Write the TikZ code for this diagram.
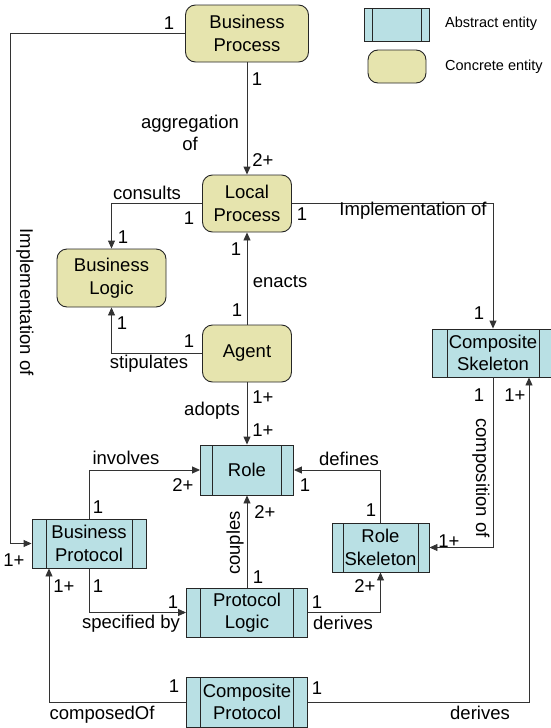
\documentclass[tikz,border=0pt]{standalone}
\usepackage{fontspec}
\setmainfont{Liberation Sans}
\usetikzlibrary{arrows.meta,calc}
\definecolor{concr}{RGB}{230,228,174}
\definecolor{abst}{RGB}{185,224,228}
\tikzset{
 ebase/.style={font=\fontsize{18.5}{22.5}\selectfont, align=center, inner sep=0pt, draw=black!85, line width=0.9pt},
 concrete/.style={ebase, fill=concr, rounded corners=10pt},
 abstract/.style={ebase, fill=abst, path picture={\draw[black!85, line width=0.9pt] ([xshift=#1]path picture bounding box.north west) -- ([xshift=#1]path picture bounding box.south west) ([xshift=-#1]path picture bounding box.north east) -- ([xshift=-#1]path picture bounding box.south east);}},
 abstract/.default=14pt,
 conn/.style={draw=black!80, line width=0.9pt},
 arr/.style={conn, -{Triangle[length=8pt,width=7pt]}},
 lbl/.style={font=\fontsize{18.5}{22.5}\selectfont, inner sep=0pt, align=center},
 leg/.style={font=\fontsize{14.5}{17}\selectfont, inner sep=0pt, anchor=west},
}
\begin{document}
\begin{tikzpicture}[x=1pt,y=-1pt]
\useasboundingbox (0,0) rectangle (550,728);
% entities
\node[concrete, minimum width=123pt, minimum height=57pt] (BP) at (247,33.5) {Business\\Process};
\node[concrete, minimum width=89pt, minimum height=57pt] (LP) at (247,203.5) {Local\\Process};
\node[concrete, minimum width=109pt, minimum height=58pt] (BL) at (111.5,278) {Business\\Logic};
\node[concrete, minimum width=89pt, minimum height=57pt] (AG) at (247,353.5) {Agent};
\node[abstract=12pt, minimum width=93pt, minimum height=50pt] (RO) at (247,470) {Role};
\node[abstract, minimum width=114pt, minimum height=49pt] (BPR) at (89,543.5) {Business\\Protocol};
\node[abstract, minimum width=121pt, minimum height=49pt] (PL) at (247,612.5) {Protocol\\Logic};
\node[abstract, minimum width=121pt, minimum height=50pt] (CP) at (247,702) {Composite\\Protocol};
\node[abstract=11pt, minimum width=97pt, minimum height=49pt] (RS) at (380.5,547.5) {Role\\Skeleton};
\node[abstract=15pt, minimum width=122pt, minimum height=48pt] (CS) at (493,353) {Composite\\Skeleton};
% legend
\node[abstract=8pt, minimum width=65pt, minimum height=33pt] (LA) at (396.5,24.5) {};
\node[concrete, minimum width=58pt, minimum height=33pt] (LC) at (397,66.5) {};
\node[leg] (LAt) at (445,24) {Abstract entity};
\node[leg] (LCt) at (445,67) {Concrete entity};
% connectors
\draw[arr] (BP.west) -- ++(-175,0) |- (BPR.west);
\draw[arr] (BP.south) -- (LP.north);
\draw[arr] (LP.west) -| (BL.north);
\draw[arr] (LP.east) -| (CS.north);
\draw[arr] (AG.north) -- (LP.south);
\draw[arr] (AG.west) -| (BL.south);
\draw[arr] (AG.south) -- (RO.north);
\draw[arr] (BPR.north) |- (RO.west);
\draw[arr] (RS.north) |- (RO.east);
\draw[arr] (PL.north) -- (RO.south);
\draw[arr] (BPR.south) |- (PL.west);
\draw[arr] (PL.east) -| (RS.south);
\draw[arr] (CS.south) |- (RS.east);
\draw[arr] (CP.east) -| ([xshift=36pt]CS.south);
\draw[arr] (CP.west) -| ([xshift=-40pt]BPR.south);
% labels
\node[lbl] (t1) at (169,23) {1};
\node[lbl, rotate=-90] (t2) at (25,302) {Implementation of};
\node[lbl] (t3) at (14,560) {1+};
\node[lbl] (t4) at (257,79) {1};
\node[lbl] (t5) at (190,133) {aggregation\\of};
\node[lbl] (t6) at (263,160) {2+};
\node[lbl] (t7) at (147,193) {consults};
\node[lbl] (t8) at (189,218) {1};
\node[lbl] (t9) at (123,237) {1};
\node[lbl] (t10) at (302,214) {1};
\node[lbl] (t11) at (413,211) {Implementation of};
\node[lbl] (t12) at (479,313) {1};
\node[lbl] (t13) at (236,249) {1};
\node[lbl] (t14) at (280,282) {enacts};
\node[lbl] (t15) at (237,310) {1};
\node[lbl] (t16) at (122,323) {1};
\node[lbl] (t17) at (189,341) {1};
\node[lbl] (t18) at (149,364) {stipulates};
\node[lbl] (t19) at (263,397) {1+};
\node[lbl] (t20) at (212,411) {adopts};
\node[lbl] (t21) at (263,430) {1+};
\node[lbl] (t22) at (126,458) {involves};
\node[lbl] (t23) at (183,485) {2+};
\node[lbl] (t24) at (98,507) {1};
\node[lbl] (t25) at (349,459) {defines};
\node[lbl] (t26) at (305,485) {1};
\node[lbl] (t27) at (371,510) {1};
\node[lbl] (t28) at (479,395) {1};
\node[lbl] (t29) at (515,395) {1+};
\node[lbl, rotate=-90] (t30) at (481,478) {composition of};
\node[lbl] (t31) at (449,541) {1+};
\node[lbl] (t32) at (265,512) {2+};
\node[lbl, rotate=90] (t33) at (235,543) {couples};
\node[lbl] (t34) at (258,577) {1};
\node[lbl] (t35) at (64,586) {1+};
\node[lbl] (t36) at (98,586) {1};
\node[lbl] (t37) at (173,602) {1};
\node[lbl] (t38) at (131,624) {specified by};
\node[lbl] (t39) at (365,586) {2+};
\node[lbl] (t40) at (317,602) {1};
\node[lbl] (t41) at (343,623) {derives};
\node[lbl] (t42) at (174,686) {1};
\node[lbl] (t43) at (102,715) {composedOf};
\node[lbl] (t44) at (317,688) {1};
\node[lbl] (t45) at (480,713) {derives};
\end{tikzpicture}
\end{document}
